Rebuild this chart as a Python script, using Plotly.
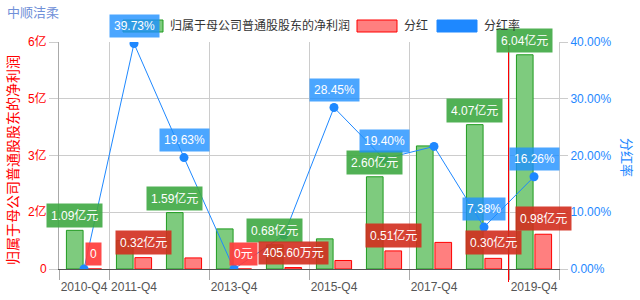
import plotly.graph_objects as go

categories = ["2010-Q4", "2011-Q4", "2012-Q4", "2013-Q4", "2014-Q4",
              "2015-Q4", "2016-Q4", "2017-Q4", "2018-Q4", "2019-Q4"]
net_profit = [1.09, 0.805, 1.59, 1.13, 0.68, 0.85, 2.60, 3.47, 4.07, 6.04]   # 亿元
dividend = [0.0, 0.32, 0.312, 0.0, 0.04056, 0.24, 0.51, 0.75, 0.30, 0.98]   # 亿元
payout_rate = [0.0, 39.73, 19.63, 0.0, 5.96, 28.45, 19.40, 21.6, 7.38, 16.26]  # %

profit_labels = ["1.09亿元", "", "1.59亿元", "", "0.68亿元", "", "2.60亿元", "", "4.07亿元", "6.04亿元"]
dividend_labels = ["0", "0.32亿元", "", "0元", "405.60万元", "", "0.51亿元", "", "0.30亿元", "0.98亿元"]
rate_labels = ["", "39.73%", "19.63%", "", "", "28.45%", "19.40%", "", "7.38%", "16.26%"]

left_tickvals = [0, 1.6, 3.2, 4.8, 6.4]
left_ticktext = ["0", "2亿", "3亿", "5亿", "6亿"]
right_tickvals = [0, 10, 20, 30, 40]
right_ticktext = ["0.00%", "10.00%", "20.00%", "30.00%", "40.00%"]
shown_ticks = ["2010-Q4", "2011-Q4", "2013-Q4", "2015-Q4", "2017-Q4", "2019-Q4"]

legend_names = ["归属于母公司普通股股东的净利润", "分红", "分红率"]

FONT = "Liberation Sans, Arial, Noto Sans CJK SC, sans-serif"
GREEN_FILL = "#7ecb7e"
GREEN_LINE = "#1f9b1f"
RED_FILL = "#ff7f7f"
RED_LINE = "#ff0000"
BLUE = "#1e88ff"

W, H = 640, 300
L, R, T, B = 59, 81, 42, 31
PW, PH = W - L - R, H - T - B


def px(x):
    return (x - L) / PW


def py(y):
    return (H - B - y) / PH


fig = go.Figure()
fig.add_trace(go.Bar(x=categories, y=net_profit, name=legend_names[0],
                     marker=dict(color=GREEN_FILL, line=dict(color=GREEN_LINE, width=1)),
                     offsetgroup="a", yaxis="y", showlegend=False))
fig.add_trace(go.Bar(x=categories, y=dividend, name=legend_names[1],
                     marker=dict(color=RED_FILL, line=dict(color=RED_LINE, width=1)),
                     offsetgroup="b", yaxis="y", showlegend=False))
fig.add_trace(go.Scatter(x=categories, y=payout_rate, name=legend_names[2], mode="lines+markers",
                         line=dict(color=BLUE, width=1), marker=dict(color=BLUE, size=9),
                         yaxis="y2", showlegend=False))

annotations = []
shift = 9.25
for i, c in enumerate(categories):
    if profit_labels[i]:
        annotations.append(dict(x=c, y=net_profit[i], xref="x", yref="y", text=profit_labels[i],
                                xshift=-shift, yshift=2, yanchor="bottom", showarrow=False,
                                bgcolor="rgba(62,168,66,0.9)", borderpad=4,
                                font=dict(color="white", size=12, family=FONT)))
for i, c in enumerate(categories):
    if dividend_labels[i]:
        bg = "rgba(255,60,60,0.92)" if dividend[i] == 0 else "rgba(210,45,30,0.9)"
        annotations.append(dict(x=c, y=dividend[i], xref="x", yref="y", text=dividend_labels[i],
                                xshift=shift, yshift=3, yanchor="bottom", showarrow=False,
                                bgcolor=bg, borderpad=4,
                                font=dict(color="white", size=12, family=FONT)))
for i, c in enumerate(categories):
    if rate_labels[i]:
        annotations.append(dict(x=c, y=payout_rate[i], xref="x", yref="y2", text=rate_labels[i],
                                yshift=6, yanchor="bottom", showarrow=False,
                                bgcolor="rgba(30,144,255,0.8)", borderpad=4,
                                font=dict(color="white", size=12, family=FONT)))

# title and axis titles
annotations.append(dict(x=px(5), y=py(12), xref="paper", yref="paper", text="中顺洁柔",
                        xanchor="left", yanchor="middle", showarrow=False,
                        font=dict(color="#7090d8", size=13, family=FONT)))
annotations.append(dict(x=px(13), y=py(160), xref="paper", yref="paper", text="归属于母公司普通股股东的净利润",
                        textangle=-90, showarrow=False, xanchor="center", yanchor="middle",
                        font=dict(color="#ff0000", size=14, family=FONT)))
annotations.append(dict(x=px(627), y=py(157), xref="paper", yref="paper", text="分红率",
                        textangle=90, showarrow=False, xanchor="center", yanchor="middle",
                        font=dict(color=BLUE, size=13, family=FONT)))

# manual legend
shapes = []
legend_items = [
    (123, legend_names[0], "rgba(126,203,126,1)", GREEN_LINE),
    (357, legend_names[1], RED_FILL, RED_LINE),
    (437, legend_names[2], BLUE, BLUE),
]
for x0, name, fill, line in legend_items:
    shapes.append(dict(type="rect", xref="paper", yref="paper",
                       x0=px(x0), x1=px(x0 + 40), y0=py(32), y1=py(20),
                       fillcolor=fill, line=dict(color=line, width=1)))
    annotations.append(dict(x=px(x0 + 45), y=py(26), xref="paper", yref="paper", text=name,
                            xanchor="left", yanchor="middle", showarrow=False,
                            font=dict(color="#333333", size=12, family=FONT)))

# red mark line
shapes.append(dict(type="line", xref="x", yref="paper", x0=8.49, x1=8.49,
                   y0=py(282), y1=1, line=dict(color="#ff0000", width=1)))

fig.update_layout(
    width=W, height=H, margin=dict(l=L, r=R, t=T, b=B, pad=0, autoexpand=False),
    paper_bgcolor="white", plot_bgcolor="white",
    barmode="group", bargap=0.26, bargroupgap=0.1,
    font=dict(family=FONT, size=12),
    showlegend=False,
    xaxis=dict(type="category", range=[-0.5, 9.5], tickmode="array", tickvals=shown_ticks,
               tickson="boundaries", tickangle=0, showgrid=True, gridcolor="#cccccc", gridwidth=1,
               ticks="outside", ticklen=10, tickcolor="#aaaaaa", ticklabelstandoff=7,
               showline=True, linecolor="#555555", linewidth=1, automargin=False,
               tickfont=dict(color="#555555", size=12, family=FONT)),
    yaxis=dict(range=[0, 6.4], tickmode="array", tickvals=left_tickvals, ticktext=left_ticktext,
               showgrid=True, gridcolor="#cccccc", zeroline=False, automargin=False,
               showline=True, linecolor="#aaaaaa", ticks="outside", ticklen=9, tickcolor="#cccccc",
               tickfont=dict(color="#ff0000", size=12, family=FONT)),
    yaxis2=dict(range=[0, 40], overlaying="y", side="right", tickmode="array", automargin=False,
                tickvals=right_tickvals, ticktext=right_ticktext, showgrid=False, zeroline=False,
                showline=True, linecolor="#cccccc", ticks="outside", ticklen=8, tickcolor="#cccccc",
                tickfont=dict(color=BLUE, size=12, family=FONT)),
    annotations=annotations, shapes=shapes,
)

fig.write_html("out.html")
